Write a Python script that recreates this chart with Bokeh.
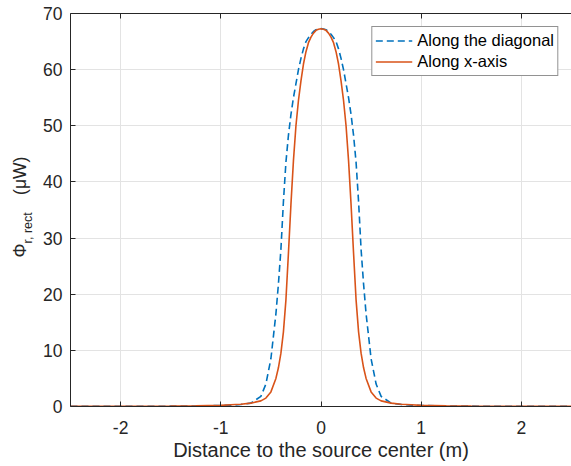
from bokeh.plotting import figure
from bokeh.models import Range1d, LinearAxis, Legend, LegendItem, FixedTicker, Title
from bokeh.embed import file_html
from bokeh.resources import INLINE

# half-profile positions (m), curves are symmetric about 0
half_x = [0.0, 0.025, 0.05, 0.075, 0.1, 0.125, 0.15, 0.175, 0.2, 0.225, 0.25, 0.275,
          0.3, 0.325, 0.35, 0.375, 0.4, 0.425, 0.45, 0.5, 0.55, 0.6, 0.7, 0.8, 0.9,
          1.0, 1.25, 1.5, 2.0, 2.5]
# Along the diagonal (uW)
diag_half = [67.3, 67.25, 67.1, 66.8, 66.3, 65.7, 65.0, 63.7, 62.0, 60.0, 57.5, 55.0,
             52.0, 48.3, 43.5, 36.5, 28.0, 21.8, 16.5, 8.5, 4.0, 1.8, 0.6, 0.35, 0.25,
             0.18, 0.1, 0.06, 0.03, 0.015]
# Along x-axis (uW)
xaxis_half = [67.3, 67.2, 67.0, 66.5, 65.8, 64.8, 63.2, 61.0, 58.0, 54.5, 50.0, 43.8,
              36.0, 27.3, 19.0, 13.3, 9.5, 6.9, 5.0, 2.6, 1.5, 1.0, 0.6, 0.4, 0.3,
              0.2, 0.12, 0.08, 0.04, 0.02]

x_ticks = [-2, -1, 0, 1, 2]
y_ticks = [0, 10, 20, 30, 40, 50, 60, 70]

xs = [-v for v in reversed(half_x[1:])] + half_x
diag = list(reversed(diag_half[1:])) + diag_half
xax = list(reversed(xaxis_half[1:])) + xaxis_half

FONT = "Liberation Sans"
DARK = "#262626"

p = figure(width=571, height=466, output_backend="svg", toolbar_location=None,
           x_range=Range1d(-2.5, 2.5), y_range=Range1d(0, 70),
           min_border_left=70, min_border_right=0, min_border_top=13, min_border_bottom=60,
           outline_line_color=None)
p.background_fill_color = "white"
p.border_fill_color = "white"

for ax in (p.xaxis[0], p.yaxis[0]):
    ax.major_tick_in = 5
    ax.major_tick_out = 0
    ax.minor_tick_in = 0
    ax.minor_tick_out = 0
    ax.axis_line_color = DARK
    ax.major_tick_line_color = DARK
    ax.major_label_text_font = FONT
    ax.major_label_text_font_size = "17.5px"
    ax.major_label_text_color = DARK

p.xaxis.ticker = FixedTicker(ticks=x_ticks)
p.yaxis.ticker = FixedTicker(ticks=y_ticks)
p.xaxis.major_label_overrides = {-2: "-2", -1: "-1"}
p.xaxis.major_label_standoff = 14
p.yaxis.major_label_standoff = 8
p.xaxis.axis_label = "Distance to the source center (m)"
p.xaxis.axis_label_text_font = FONT
p.xaxis.axis_label_text_font_size = "20px"
p.xaxis.axis_label_text_font_style = "normal"
p.xaxis.axis_label_text_color = DARK
p.xaxis.axis_label_standoff = 2

# top ticks (box style)
top = LinearAxis(ticker=FixedTicker(ticks=x_ticks),
                 major_label_overrides={t: "" for t in x_ticks},
                 major_tick_in=5, major_tick_out=0, minor_tick_in=0, minor_tick_out=0,
                 major_label_standoff=0, axis_line_color=DARK, major_tick_line_color=DARK)
p.add_layout(top, "above")

p.xgrid.ticker = FixedTicker(ticks=x_ticks)
p.ygrid.ticker = FixedTicker(ticks=y_ticks)
p.grid.grid_line_color = "#e3e3e3"
p.grid.grid_line_width = 1

r_diag = p.line(xs, diag, line_color="#0072BD", line_width=1.6, line_dash="7 4")
r_x = p.line(xs, xax, line_color="#D95319", line_width=1.6)

legend = Legend(items=[LegendItem(label="Along the diagonal", renderers=[r_diag]),
                       LegendItem(label="Along x-axis", renderers=[r_x])],
                location="top_right", margin=13, padding=3, spacing=0,
                glyph_width=37, glyph_height=21, label_height=21, label_standoff=5,
                label_text_font=FONT, label_text_font_size="16.5px", label_text_color="black",
                border_line_color=DARK, border_line_width=1, background_fill_alpha=1)
p.add_layout(legend, "center")

# y-axis label: Phi_{r, rect} (uW), built from two vertical titles
t_sub = Title(text="r, rect", align="left", offset=163, standoff=12,
              text_font=FONT, text_font_size="12.5px", text_font_style="normal",
              text_color=DARK)
t_main = Title(text="\u03a6" + "\u00a0" * 10 + "(\u03bcW)", align="left", offset=149,
               standoff=-35, text_font=FONT, text_font_size="17.5px",
               text_font_style="normal", text_color=DARK)
p.add_layout(t_sub, "left")
p.add_layout(t_main, "left")

open("out.html", "w").write(file_html(p, INLINE))
